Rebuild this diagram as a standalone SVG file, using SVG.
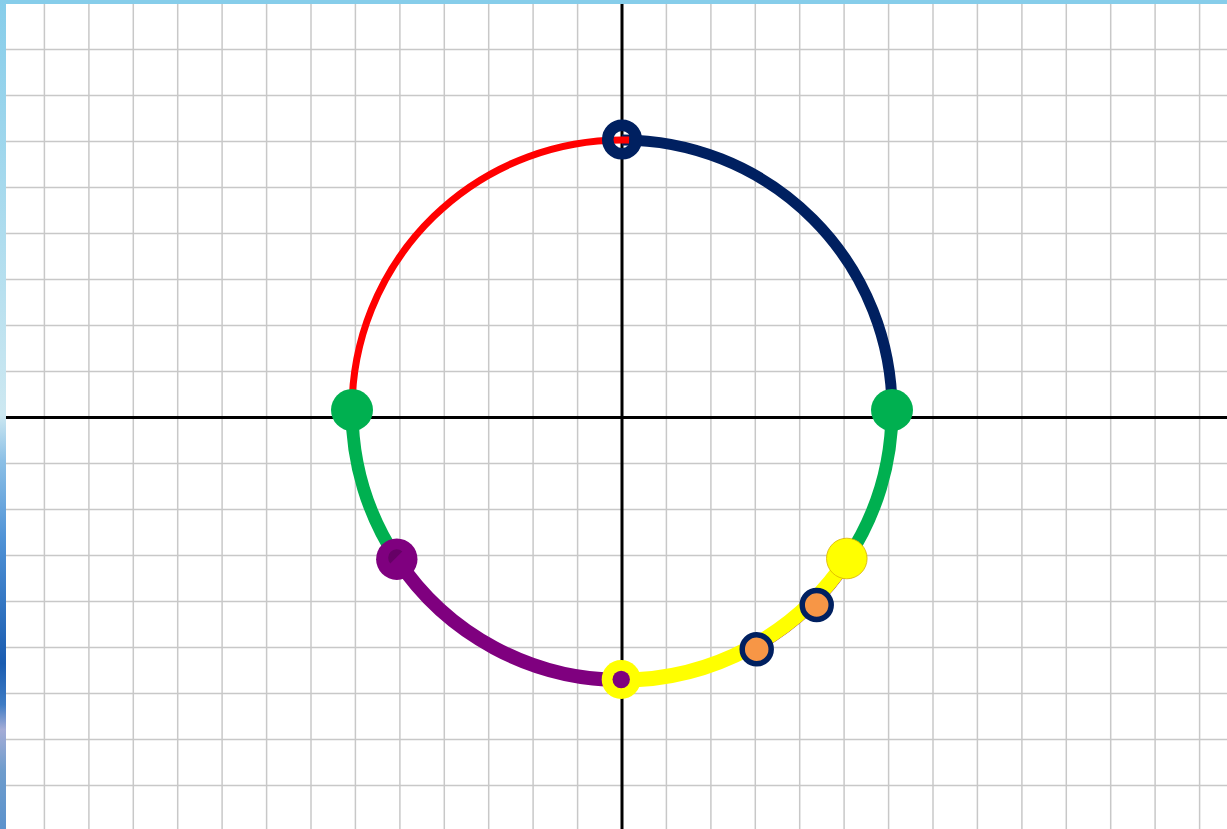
<svg xmlns="http://www.w3.org/2000/svg" width="1227" height="829" viewBox="0 0 1227 829">
  <defs>
    <linearGradient id="side" x1="0" y1="0" x2="0" y2="1">
      <stop offset="0" stop-color="#86cdea"/>
      <stop offset="0.5" stop-color="#cde8f1"/>
      <stop offset="0.555" stop-color="#8cc0e6"/>
      <stop offset="0.65" stop-color="#4f92d6"/>
      <stop offset="0.8" stop-color="#1a5cb0"/>
      <stop offset="0.85" stop-color="#3f7cc4"/>
      <stop offset="0.88" stop-color="#a4acd6"/>
      <stop offset="0.93" stop-color="#6e9ccc"/>
      <stop offset="1" stop-color="#5b92cc"/>
    </linearGradient>
    <style>
      .grid line { stroke: #c8c8c8; stroke-width: 1.5; }
      .axis { stroke: #000; stroke-width: 3; }
      .arc { fill: none; stroke-linecap: butt; }
    </style>
  </defs>
  <rect width="1227" height="829" fill="#ffffff"/>
  <g id="grid" class="grid">
    <line x1="44.4" y1="0" x2="44.4" y2="829"/>
    <line x1="88.9" y1="0" x2="88.9" y2="829"/>
    <line x1="133.3" y1="0" x2="133.3" y2="829"/>
    <line x1="177.7" y1="0" x2="177.7" y2="829"/>
    <line x1="222.1" y1="0" x2="222.1" y2="829"/>
    <line x1="266.6" y1="0" x2="266.6" y2="829"/>
    <line x1="311" y1="0" x2="311" y2="829"/>
    <line x1="355.4" y1="0" x2="355.4" y2="829"/>
    <line x1="399.9" y1="0" x2="399.9" y2="829"/>
    <line x1="444.3" y1="0" x2="444.3" y2="829"/>
    <line x1="488.7" y1="0" x2="488.7" y2="829"/>
    <line x1="533.1" y1="0" x2="533.1" y2="829"/>
    <line x1="577.6" y1="0" x2="577.6" y2="829"/>
    <line x1="666.4" y1="0" x2="666.4" y2="829"/>
    <line x1="710.9" y1="0" x2="710.9" y2="829"/>
    <line x1="755.3" y1="0" x2="755.3" y2="829"/>
    <line x1="799.7" y1="0" x2="799.7" y2="829"/>
    <line x1="844.1" y1="0" x2="844.1" y2="829"/>
    <line x1="888.6" y1="0" x2="888.6" y2="829"/>
    <line x1="933" y1="0" x2="933" y2="829"/>
    <line x1="977.4" y1="0" x2="977.4" y2="829"/>
    <line x1="1021.9" y1="0" x2="1021.9" y2="829"/>
    <line x1="1066.3" y1="0" x2="1066.3" y2="829"/>
    <line x1="1110.7" y1="0" x2="1110.7" y2="829"/>
    <line x1="1155.1" y1="0" x2="1155.1" y2="829"/>
    <line x1="1199.6" y1="0" x2="1199.6" y2="829"/>
    <line x1="0" y1="49.5" x2="1227" y2="49.5"/>
    <line x1="0" y1="95.5" x2="1227" y2="95.5"/>
    <line x1="0" y1="141.5" x2="1227" y2="141.5"/>
    <line x1="0" y1="187.5" x2="1227" y2="187.5"/>
    <line x1="0" y1="233.5" x2="1227" y2="233.5"/>
    <line x1="0" y1="279.5" x2="1227" y2="279.5"/>
    <line x1="0" y1="325.5" x2="1227" y2="325.5"/>
    <line x1="0" y1="371.5" x2="1227" y2="371.5"/>
    <line x1="0" y1="463.5" x2="1227" y2="463.5"/>
    <line x1="0" y1="509.5" x2="1227" y2="509.5"/>
    <line x1="0" y1="555.5" x2="1227" y2="555.5"/>
    <line x1="0" y1="601.5" x2="1227" y2="601.5"/>
    <line x1="0" y1="647.5" x2="1227" y2="647.5"/>
    <line x1="0" y1="693.5" x2="1227" y2="693.5"/>
    <line x1="0" y1="739.5" x2="1227" y2="739.5"/>
    <line x1="0" y1="785.5" x2="1227" y2="785.5"/>
  </g>
  <g id="axes">
    <line class="axis" x1="0" y1="417.5" x2="1227" y2="417.5"/>
    <line class="axis" x1="622" y1="0" x2="622" y2="829"/>
  </g>
  <rect id="top-border" x="0" y="0" width="1227" height="4" fill="#86cdea"/>
  <rect id="side-border" x="0" y="0" width="6" height="829" fill="url(#side)"/>
  <g id="connectors">
    <path id="arc-navy" class="arc" d="M622 140 A270 270 0 0 1 892 410" stroke="#002060" stroke-width="11"/>
    <path id="arc-red" class="arc" d="M352 410 A270 270 0 0 1 629.1 140.1" stroke="#ff0000" stroke-width="7"/>
    <path id="arc-green-right" class="arc" d="M892 410 A270 270 0 0 1 847.1 559" stroke="#00b050" stroke-width="13"/>
    <path id="arc-purple-thin" class="arc" d="M853 562.9 A277 277 0 0 1 760.5 649.9" stroke="#7f007f" stroke-width="1.6"/>
    <path id="arc-yellow" class="arc" d="M847.1 559 A270 270 0 0 1 622 680" stroke="#ffff00" stroke-width="15"/>
    <path id="arc-purple" class="arc" d="M622 680 A270 270 0 0 1 396.9 559" stroke="#7f007f" stroke-width="14"/>
    <path id="arc-green-left" class="arc" d="M396.9 559 A270 270 0 0 1 352 410" stroke="#00b050" stroke-width="13"/>
  </g>
  <g id="node-top">
    <circle cx="622" cy="139.5" r="14.3" fill="none" stroke="#002060" stroke-width="11.5"/>
  </g>
  <g id="node-left">
    <circle cx="352" cy="410" r="21" fill="#00b050"/>
  </g>
  <g id="node-right">
    <circle cx="892" cy="410" r="21" fill="#00b050"/>
  </g>
  <g id="node-purple">
    <circle cx="396.8" cy="559.2" r="20.7" fill="#7f007f"/>
    <path d="M390.3 563.5 A8.5 8.5 0 0 1 402.3 551.5 Z" fill="#660066"/>
  </g>
  <g id="node-yellow">
    <circle cx="846.8" cy="558.5" r="20.3" fill="#ffff00" stroke="#d8b000" stroke-width="0.8"/>
  </g>
  <g id="node-bottom">
    <circle cx="621.2" cy="679.5" r="19.5" fill="#ffff00"/>
    <circle cx="621.2" cy="679.5" r="8.7" fill="#7f007f"/>
  </g>
  <g id="node-orange-1">
    <circle cx="816.7" cy="605" r="14.5" fill="#f79646" stroke="#002060" stroke-width="5.5"/>
  </g>
  <g id="node-orange-2">
    <circle cx="756.7" cy="649.3" r="14.5" fill="#f79646" stroke="#002060" stroke-width="5.5"/>
  </g>
</svg>
